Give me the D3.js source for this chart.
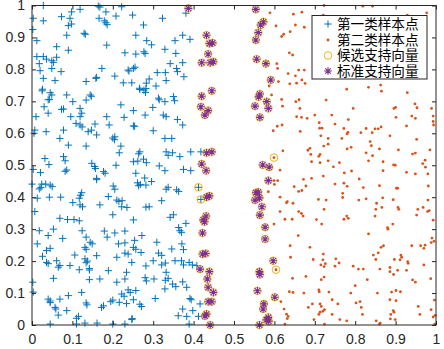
<!DOCTYPE html>
<html><head><meta charset="utf-8">
<script src="https://cdn.jsdelivr.net/npm/d3@7"></script>
<style>html,body{margin:0;padding:0;background:#fff;}svg{display:block;}</style>
</head><body>
<svg id="chart" width="444" height="349"></svg>
<script>
const xTicks = [0,0.1,0.2,0.3,0.4,0.5,0.6,0.7,0.8,0.9,1];
const yTicks = [0,0.1,0.2,0.3,0.4,0.5,0.6,0.7,0.8,0.9,1];
const xTickLabels = ["0","0.1","0.2","0.3","0.4","0.5","0.6","0.7","0.8","0.9","1"];
const yTickLabels = ["0","0.1","0.2","0.3","0.4","0.5","0.6","0.7","0.8","0.9","1"];
const legendLabels = ["第一类样本点","第二类样本点","候选支持向量","标准支持向量"];

// class 1 samples (blue +)
const class1 = [
[.028,1.0],[.003,.96],[.028,.952],[.002,.925],[.012,.89],[.073,.965],[.098,.98],[.119,.988],[.094,.96],[.09,.937],[.098,.942],[.086,.907],[.129,.913],[.132,.91],[.164,.998],[.168,.995],[.166,.96],[.183,.98],[.183,.946],[.179,.952],[.186,.94],[.222,.996],[.208,.967],[.249,.97],[.276,.939],[.257,.907],[.284,.89],[.185,.876],[.061,.871],[.09,.86],[.012,.84],[.028,.84],[.036,.832],[.049,.827],[.061,.838],[.053,.822],[.018,.818],[.02,.796],[.049,.803],[.072,.793],[.028,.772],[.057,.765],[.026,.738],[.025,.733],[.045,.727],[.049,.72],[.043,.706],[.04,.705],[.03,.683],[.01,.652],[.04,.663],[.086,.72],[.101,.699],[.073,.675],[.078,.676],[.096,.652],[.119,.678],[.123,.663],[.134,.704],[.134,.762],[.144,.72],[.147,.716],[.119,.652],[.158,.772],[.16,.775],[.173,.803],[.185,.652],[.205,.779],[.226,.758],[.247,.758],[.238,.798],[.24,.795],[.251,.803],[.255,.807],[.23,.852],[.257,.848],[.277,.855],[.28,.85],[.266,.741],[.267,.737],[.277,.735],[.282,.74],[.281,.728],[.283,.757],[.22,.689],[.251,.671],[.28,.657],[.228,.65],
[.109,.631],[.119,.626],[.124,.62],[.139,.605],[.147,.61],[.16,.595],[.156,.629],[.191,.626],[.205,.589],[.2,.585],[.204,.58],[.251,.623],[.254,.622],[.007,.61],[.005,.6],[.035,.605],[.069,.584],[.09,.563],[.078,.61],[.134,.56],[.22,.56],[.216,.539],[.267,.542],[.264,.536],[.276,.519],[.262,.513],[.283,.508],[.032,.521],[.042,.502],[.003,.487],[.021,.477],[.078,.527],[.082,.514],[.086,.485],[.082,.481],[.148,.506],[.155,.496],[.157,.49],[.16,.459],[.16,.455],[.177,.48],[.181,.475],[.208,.5],[.251,.511],[.257,.475],[.261,.445],[.268,.44],[.264,.436],[.282,.438],[.279,.46],[0,.441],[.024,.441],[.022,.43],[.018,.426],[.034,.441],[.045,.438],[.05,.433],[.043,.4],[.013,.397],[.071,.4],[.007,.355],[.101,.383],[.117,.397],[.12,.406],[.123,.414],[.119,.376],[.125,.37],[.168,.376],[.201,.435],[.205,.425],[.189,.402],[.21,.391],[.215,.387],[.223,.389],[.222,.37],[.235,.368],[.282,.369],[.2,.345],[.251,.329],[.069,.334],[.088,.33],[.104,.33],[.117,.326],
[.018,.295],[.04,.28],[.053,.3],[.076,.271],[.013,.254],[.036,.233],[.045,.24],[.026,.215],[.036,.196],[.04,.192],[.061,.201],[.069,.186],[.065,.181],[.053,.146],[.094,.186],[.106,.219],[.117,.173],[.131,.243],[.134,.237],[.131,.207],[.137,.2],[.134,.195],[.142,.177],[.142,.172],[.142,.142],[.144,.259],[.149,.254],[.16,.217],[.134,.275],[.124,.295],[.179,.294],[.189,.17],[.168,.144],[.186,.275],[.205,.288],[.214,.254],[.21,.212],[.23,.294],[.23,.257],[.23,.225],[.238,.222],[.247,.196],[.234,.165],[.21,.134],[.23,.144],[.251,.243],[.257,.237],[.254,.265],[.27,.227],[.272,.28],[.282,.185],[.28,.148],[.283,.138],[.002,.134],[.003,.103],[.04,.081],[.045,.075],[.045,.07],[.057,.055],[.059,.05],[.065,.031],[.069,.081],[.086,.045],[.09,.092],[.115,.027],[.11,.021],[.123,.102],[.134,.069],[.136,.063],[.045,.003],[.11,.003],[.131,.006],[.161,.006],[.172,.055],[.177,.06],[.195,.073],[.2,.078],[.216,.071],[.222,.097],[.228,.09],[.234,.067],[.243,.102],[.251,.079],[.247,.017],[.248,.02],[.23,.003],[.238,.11],[.271,.058],[.257,.108],[.267,.065],[.2,.003],
[.323,.96],[.381,.976],[.373,.907],[.354,.89],[.391,.894],[.329,.863],[.296,.877],[.356,.85],[.342,.818],[.373,.821],[.358,.803],[.36,.793],[.31,.79],[.33,.79],[.376,.777],[.332,.765],[.307,.748],[.29,.77],[.313,.71],[.315,.705],[.329,.699],[.35,.715],[.353,.702],[.299,.681],[.325,.657],[.332,.652],[.36,.643],
[.373,.626],[.3,.608],[.329,.584],[.346,.584],[.332,.542],[.348,.539],[.337,.531],[.366,.527],[.393,.542],[.418,.542],[.315,.498],[.329,.483],[.375,.487],[.393,.483],[.296,.449],[.337,.431],[.332,.425],[.358,.423],[.363,.418],[.321,.389],[.412,.431],[.418,.393],[.342,.337],[.35,.345],[.381,.318],[.363,.305],[.29,.37],
[.366,.295],[.37,.29],[.309,.259],[.346,.238],[.371,.254],[.375,.236],[.313,.225],[.321,.218],[.3,.201],[.321,.188],[.33,.194],[.354,.201],[.37,.201],[.375,.188],[.389,.196],[.397,.188],[.408,.186],[.332,.165],[.337,.146],[.33,.14],[.348,.128],[.356,.12],[.302,.144],[.305,.083],[.329,.113],[.373,.135],[.383,.118],[.391,.083],[.394,.079],[.373,.05],[.362,.029],[.383,.027],[.389,.003],[.416,.066],[.412,.027],[.398,.045]
];

// class 2 samples (orange dots)
const class2 = [
[.589,.977],[.647,.973],[.604,.936],[.652,.939],[.618,.903],[.623,.91],[.639,.918],[.637,.852],[.645,.845],[.606,.818],[.608,.803],[.634,.787],[.652,.78],[.66,.798],[.61,.762],[.587,.748],[.638,.755],[.655,.757],[.593,.72],[.618,.706],[.653,.699],[.661,.705],[.62,.685],[.655,.652],
[.597,.608],[.607,.622],[.619,.626],[.664,.606],[.621,.545],[.614,.485],[.599,.452],[.608,.452],[.6,.44],[.649,.433],[.66,.418],[.585,.417],[.614,.4],[.632,.386],[.63,.383],[.646,.381],[.614,.355],[.66,.355],[.626,.331],[.644,.331],[.599,.316],
[.659,.28],[.639,.248],[.64,.212],[.645,.146],[.637,.104],[.646,.102],[.616,.073],[.624,.05],[.63,.034],[.634,.027],[.632,.02],[.626,.003],
[.723,1.0],[.819,.998],[.843,.998],[.929,.97],[.977,.977],[.668,.979],[.721,.97],[.674,.932],[.674,.798],[.668,.767],[.676,.756],[.728,.704],[.779,.738],[.833,.744],[.863,.751],[.865,.732],[.929,.727],[.795,.678],[.896,.678],[.9,.681],[.948,.692],[.953,.68],[.989,.678],[.663,.678],[.7,.657],
[.667,.65],[.681,.647],[.742,.657],[.711,.633],[.712,.616],[.718,.616],[.75,.629],[.783,.643],[.901,.65],[.94,.654],[.949,.647],[.993,.654],[.993,.637],[.994,.626],[.772,.615],[.78,.598],[.782,.603],[.814,.602],[.827,.615],[.842,.602],[.849,.614],[.857,.614],[.864,.62],[.927,.623],[.715,.592],[.733,.584],[.767,.584],[.886,.592],[.952,.581],[.733,.566],[.722,.56],[.837,.574],[.84,.561],[.78,.551],[.79,.556],[.86,.551],[.688,.553],[.683,.547],[.69,.534],[.713,.534],[.71,.528],[.827,.539],[.843,.53],[.907,.548],[.942,.535],[.949,.538],[.985,.548],[.692,.511],[.713,.508],[.733,.514],[.761,.508],[.833,.514],[.869,.511],[.895,.501],[.899,.5],[.973,.516],[.967,.505],[.974,.494],[.746,.495],[.773,.476],[.791,.482],[.869,.483],[.927,.478],[.949,.473],[.98,.473],[.721,.466],[.672,.456],[.692,.459],[.75,.441],[.772,.444],[.78,.434],[.81,.457],[.82,.43],[.86,.436],[.902,.428],[.905,.428],[.981,.435],[.678,.435],[.668,.421],[.769,.412],[.769,.399],[.709,.393],[.728,.391],[.809,.391],[.827,.395],[.868,.398],[.894,.392],[.98,.391],[.853,.381],[.866,.368],[.906,.368],[.908,.362],[.723,.362],[.851,.362],[.955,.362],[.968,.368],[.983,.358],[.979,.355],[.667,.349],[.671,.341],[.849,.341],[.952,.344],[.993,.328],[.779,.341],[.783,.334],[.772,.331],[.704,.33],[.717,.316],[.893,.316],[.88,.305],
[.833,.285],[.881,.3],[.688,.243],[.721,.222],[.752,.207],[.696,.205],[.678,.152],[.715,.188],[.723,.183],[.72,.204],[.726,.192],[.723,.15],[.716,.142],[.75,.184],[.76,.194],[.795,.184],[.808,.175],[.82,.175],[.83,.142],[.845,.219],[.851,.205],[.857,.226],[.87,.248],[.864,.243],[.861,.175],[.886,.18],[.886,.167],[.895,.158],[.897,.205],[.905,.171],[.911,.204],[.913,.219],[.915,.212],[.93,.198],[.931,.193],[.927,.171],[.94,.248],[.962,.248],[.973,.25],[.97,.24],[.988,.258],[.99,.272],[.995,.262],[.97,.188],[.942,.141],[.949,.134],[.987,.145],[.673,.1],[.71,.11],[.711,.104],[.735,.103],[.743,.079],[.789,.1],[.8,.123],[.855,.1],[.89,.103],[.901,.108],[.912,.104],[.684,.055],[.694,.066],[.713,.066],[.716,.058],[.713,.04],[.72,.043],[.724,.048],[.71,.033],[.757,.066],[.743,.033],[.802,.069],[.812,.073],[.815,.055],[.818,.033],[.886,.079],[.901,.076],[.894,.045],[.896,.04],[.888,.033],[.887,.019],[.899,.017],[.956,.058],[.96,.033],[.988,.048],[.996,.078],[.998,.03],[.993,.025],[.997,.003],[.698,.017],[.724,.003],[.762,.017],[.779,.013],[.852,.013],[.86,.003],[.862,.006],
[.599,.524],[.604,.173]
];

// standard support vectors (purple *), all of them are also candidates
const supportVectors = [
[.387,.991],[.432,.907],[.439,.881],[.447,.883],[.436,.848],[.42,.821],[.441,.821],[.449,.824],[.445,.733],[.42,.716],[.418,.683],[.436,.671],[.428,.657],
[.432,.539],[.445,.542],[.42,.504],[.431,.483],[.432,.4],[.439,.404],[.431,.341],[.424,.329],[.427,.323],
[.422,.288],[.422,.222],[.43,.224],[.416,.175],[.439,.167],[.434,.144],[.436,.118],[.449,.102],[.436,.073],[.445,.073],[.432,.034],[.428,.028],[.441,0],
[.554,.988],[.573,.949],[.566,.939],[.56,.915],[.554,.892],[.556,.832],[.579,.818],[.591,.767],[.564,.723],[.561,.714],[.581,.699],[.585,.678],[.552,.685],[.564,.65],
[.571,.501],[.587,.494],[.585,.452],[.554,.414],[.56,.416],[.552,.391],[.563,.398],[.569,.37],[.564,.344],[.577,.306],
[.577,.269],[.597,.201],[.563,.167],[.564,.158],[.558,.107],[.601,.087],[.574,.066],[.572,.05],[.585,.024],[.58,.016],[.563,0],[.586,.012]
];
// extra candidates that are not standard support vectors (yellow circle only)
const extraCandidates = [[.412,.431],[.418,.393],[.599,.524],[.604,.173]];

const C1 = "#0072BD", C2 = "#D95319", C3 = "#EDB120", C4 = "#7E2F8E", AX = "#262626";
const svg = d3.select("#chart");
const L = 32, R = 436, T = 5.5, B = 325;
const x = d3.scaleLinear().domain([0,1]).range([L,R]);
const y = d3.scaleLinear().domain([0,1]).range([B,T]);

const plusPath = s => `M${-s},0H${s}M0,${-s}V${s}`;
const starPath = s => { const d = s*0.72; return `M${-s},0H${s}M0,${-s}V${s}M${-d},${-d}L${d},${d}M${-d},${d}L${d},${-d}`; };

const g = svg.append("g");
g.selectAll("path.c1").data(class1).join("path").attr("class","c1")
  .attr("transform", d => `translate(${x(d[0])},${y(d[1])})`)
  .attr("d", plusPath(3.6)).attr("stroke", C1).attr("stroke-width", 1).attr("fill","none");
g.selectAll("circle.c2").data(class2).join("circle").attr("class","c2")
  .attr("cx", d => x(d[0])).attr("cy", d => y(d[1])).attr("r", 1.4).attr("fill", C2);
const candidates = supportVectors.concat(extraCandidates);
g.selectAll("circle.cand").data(candidates).join("circle").attr("class","cand")
  .attr("cx", d => x(d[0])).attr("cy", d => y(d[1])).attr("r", 3.8)
  .attr("fill","none").attr("stroke", C3).attr("stroke-width", 1);
g.selectAll("path.sv").data(supportVectors).join("path").attr("class","sv")
  .attr("transform", d => `translate(${x(d[0])},${y(d[1])})`)
  .attr("d", starPath(3.8)).attr("stroke", C4).attr("stroke-width", 1.1).attr("fill","none");

// axes (MATLAB box style, ticks inside)
const ax = svg.append("g");
const xb = ax.append("g").attr("transform", `translate(0,${B})`)
  .call(d3.axisBottom(x).tickValues(xTicks).tickFormat((d,i)=>xTickLabels[i]).tickSizeInner(-4).tickSizeOuter(0).tickPadding(9));
const xt = ax.append("g").attr("transform", `translate(0,${T})`)
  .call(d3.axisTop(x).tickValues(xTicks).tickFormat("").tickSizeInner(-4).tickSizeOuter(0));
const yl = ax.append("g").attr("transform", `translate(${L},0)`)
  .call(d3.axisLeft(y).tickValues(yTicks).tickFormat((d,i)=>yTickLabels[i]).tickSizeInner(-4).tickSizeOuter(0).tickPadding(7));
const yr = ax.append("g").attr("transform", `translate(${R},0)`)
  .call(d3.axisRight(y).tickValues(yTicks).tickFormat("").tickSizeInner(-4).tickSizeOuter(0));
ax.selectAll(".domain").remove();
ax.selectAll(".tick line").attr("stroke", AX).attr("stroke-width", 1);
ax.selectAll(".tick text").attr("fill", AX).style("font-family","'Liberation Sans', Arial, sans-serif").style("font-size","14px");
ax.append("rect").attr("x", L).attr("y", T).attr("width", R-L).attr("height", B-T)
  .attr("fill","none").attr("stroke", AX).attr("stroke-width", 1);

// legend
const lg = svg.append("g");
lg.append("rect").attr("x", 312).attr("y", 15.5).attr("width", 115).attr("height", 63.5)
  .attr("fill","#fff").attr("stroke", AX).attr("stroke-width", 1);
const rowY = [24, 40, 55.5, 71];
const items = lg.selectAll("g.item").data(legendLabels).join("g").attr("class","item")
  .attr("transform", (d,i) => `translate(328,${rowY[i]})`);
items.filter((d,i)=>i===0).append("path").attr("d", plusPath(3.6)).attr("stroke", C1).attr("fill","none");
items.filter((d,i)=>i===1).append("circle").attr("r", 1.4).attr("fill", C2);
items.filter((d,i)=>i===2).append("circle").attr("r", 3.8).attr("fill","none").attr("stroke", C3);
items.filter((d,i)=>i===3).append("path").attr("d", starPath(3.8)).attr("stroke", C4).attr("stroke-width",1.1).attr("fill","none");
items.append("text").attr("x", 9).attr("dy", "0.36em").text(d => d)
  .attr("fill", "#000").style("font-family","'Noto Sans CJK SC', sans-serif").style("font-size","13.6px");
</script>
</body></html>
